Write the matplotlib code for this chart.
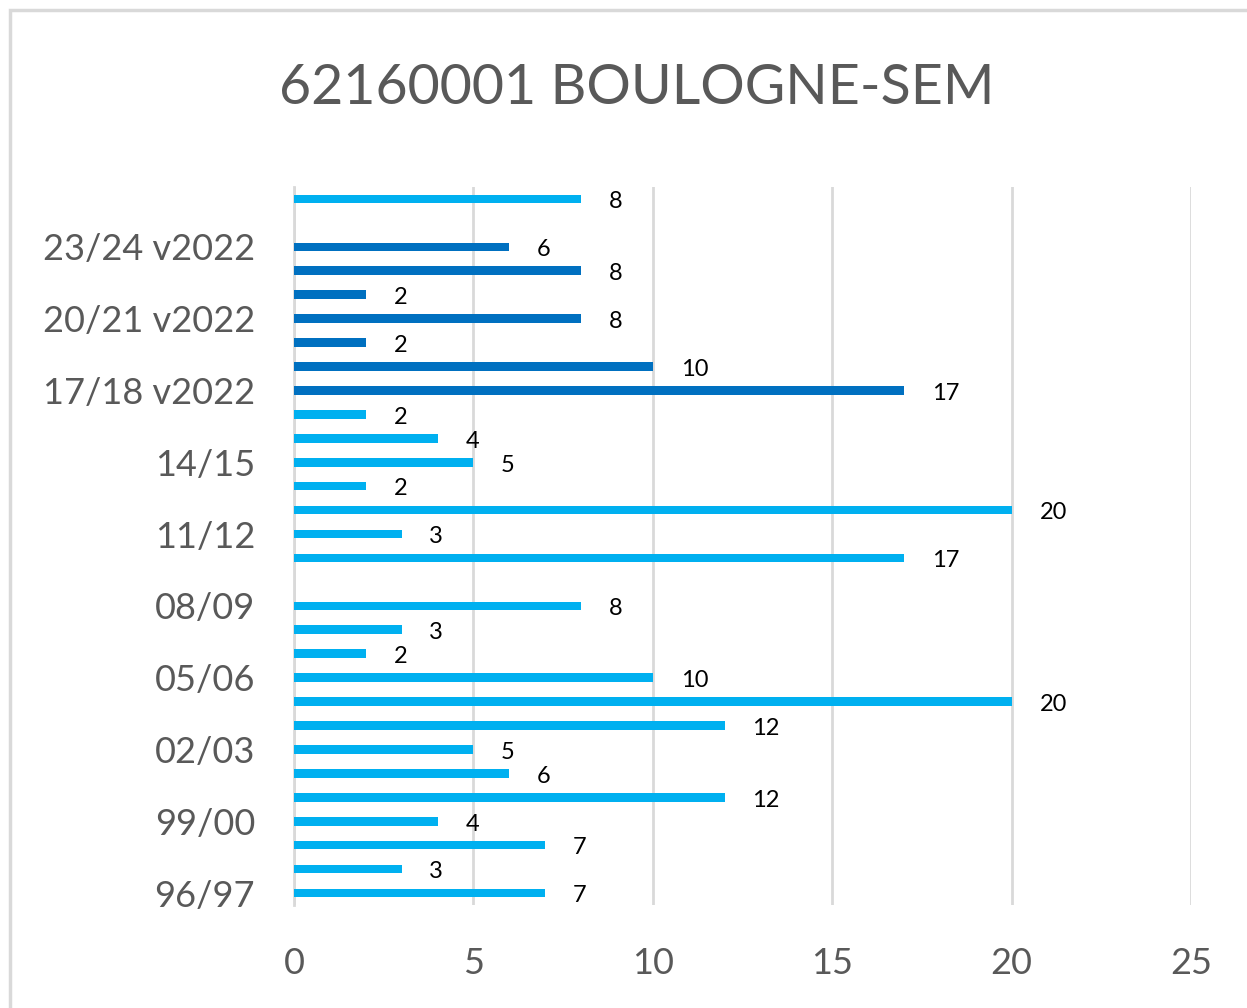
import matplotlib
matplotlib.use("Agg")
import numpy as np
import matplotlib.pyplot as plt
from matplotlib.patches import Rectangle

# seasons, bottom to top
seasons = ["96/97", "97/98", "98/99", "99/00", "00/01", "01/02", "02/03",
           "03/04", "04/05", "05/06", "06/07", "07/08", "08/09", "09/10",
           "10/11", "11/12", "12/13", "13/14", "14/15", "15/16", "16/17",
           "17/18 v2022", "18/19 v2022", "19/20 v2022", "20/21 v2022",
           "21/22 v2022", "22/23 v2022", "23/24 v2022", "24/25 v2022", "24/25"]

# old method counts (None = no value)
counts_old = [7, 3, 7, 4, 12, 6, 5, 12, 20, 10, 2, 3, 8, None,
              17, 3, 20, 2, 5, 4, 2,
              None, None, None, None, None, None, None, None, 8]
# v2022 method counts
counts_v2022 = [None] * 21 + [17, 10, 2, 8, 2, 8, 6, None, None]

title = "62160001 BOULOGNE-SEM"
light = "#00B0F0"
dark = "#0070C0"
grey = "#595959"

plt.rcParams['font.family'] = ['Lato', 'DejaVu Sans']

fig = plt.figure(figsize=(12.47, 10.08), dpi=100)
ax = fig.add_axes([294 / 1247, 1 - 905 / 1008, (1191 - 294) / 1247, 718 / 1008])

y = np.arange(len(seasons))
bar_h = 0.36
for vals, col in [(counts_old, light), (counts_v2022, dark)]:
    for yi, v in zip(y, vals):
        if v is None:
            continue
        ax.barh(yi, v, height=bar_h, color=col, zorder=3)
        ax.annotate(str(v), (v, yi), xytext=(20, -2), textcoords="offset points",
                    ha="left", va="center", fontsize=17, color="black")

ax.set_xlim(0, 25)
ax.set_ylim(-0.5, len(seasons) - 0.5)
ax.set_xticks(range(0, 26, 5))
ax.set_yticks(y[::3])
ax.set_yticklabels(seasons[::3])
ax.tick_params(axis="both", length=0, labelsize=26, labelcolor=grey)
ax.tick_params(axis="y", pad=28)
ax.tick_params(axis="x", pad=30)
ax.grid(axis="x", color="#D9D9D9", linewidth=2, zorder=0)
for s in ["top", "right", "bottom"]:
    ax.spines[s].set_visible(False)
ax.spines["left"].set_color("#D9D9D9")
ax.spines["left"].set_linewidth(2)
ax.spines["left"].set_zorder(1)

fig.text(637 / 1247, 1 - 89 / 1008, title, ha="center", va="center",
         fontsize=40, color=grey)

# chart frame
fig.add_artist(Rectangle((10 / 1247, -0.05), 1.2, 1 - 10 / 1008 + 0.05,
                         transform=fig.transFigure, fill=False,
                         edgecolor="#D9D9D9", linewidth=2.5))

plt.savefig("out.png", dpi=100)
